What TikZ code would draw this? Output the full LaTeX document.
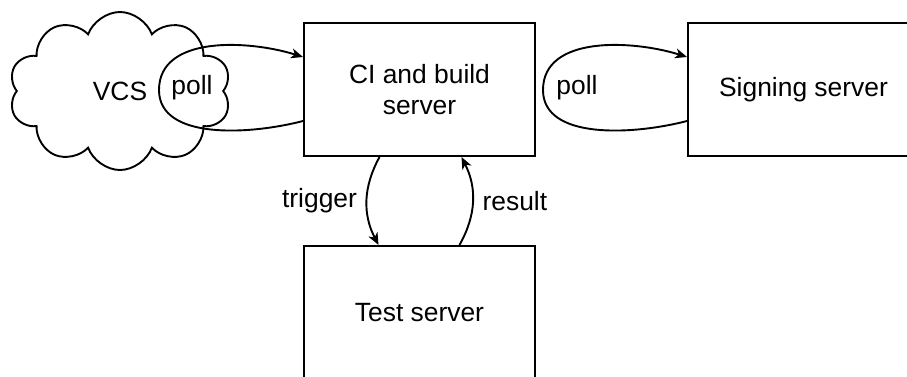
\documentclass[tikz,border=0pt]{standalone}
\usepackage{fontspec}
\setmainfont{Liberation Sans}
\usetikzlibrary{shapes.symbols,arrows.meta,calc}
\begin{document}
\begin{tikzpicture}[x=1pt,y=-1pt,
  every node/.style={font=\fontsize{26.4}{31}\selectfont},
  server/.style={draw,line width=2pt,minimum width=231pt,minimum height=133pt,align=center,inner sep=0pt},
  repo/.style={cloud,draw,line width=1.9pt,cloud puffs=10,cloud puff arc=140,aspect=1.4,minimum width=222pt,minimum height=158pt,inner sep=0pt},
  link/.style={line width=1.9pt,-{Stealth[length=12pt,width=10pt,inset=3.5pt]}}]
\useasboundingbox (0,0) rectangle (907,376);
\clip (0,0) rectangle (907,376);

% servers
\node[server] (ci) at (419.5,89.5) {CI and build\\server};
\node[server] (sign) at (803.5,89.5) {Signing server};
\node[server] (test) at (419.5,312.5) {Test server};

% version control
\node[repo] (vcs) at (120,91) {VCS};

% polling loops on the left side of the CI and signing servers
\coordinate (lp1) at ($(ci.west)+(-144,0.5)$);
\coordinate (lp2) at ($(sign.west)+(-144,0.5)$);
\draw[link] ($(ci.west)+(0,31.5)$) .. controls +(-54,14) and +(0,50) .. (lp1)
  .. controls +(0,-55) and +(-54,-17) .. ($(ci.west)+(0,-32.5)$);
\draw[link] ($(sign.west)+(0,31.5)$) .. controls +(-54,14) and +(0,50) .. (lp2)
  .. controls +(0,-55) and +(-54,-17) .. ($(sign.west)+(0,-32.5)$);
\node (poll1) at ($(ci.west)+(-111,-1.5)$) {poll};
\node (poll2) at ($(sign.west)+(-110,-1.5)$) {poll};

% test round trip
\draw[link] ($(ci.south)+(-40,0)$) to[bend right=28]
  node[midway,left,inner sep=9pt] (trig) {trigger} ($(test.north)+(-41,0)$);
\draw[link] ($(test.north)+(40,0)$) to[bend right=28]
  node[midway,right,inner sep=9pt] (res) {result} ($(ci.south)+(42,0)$);
\end{tikzpicture}
\end{document}
